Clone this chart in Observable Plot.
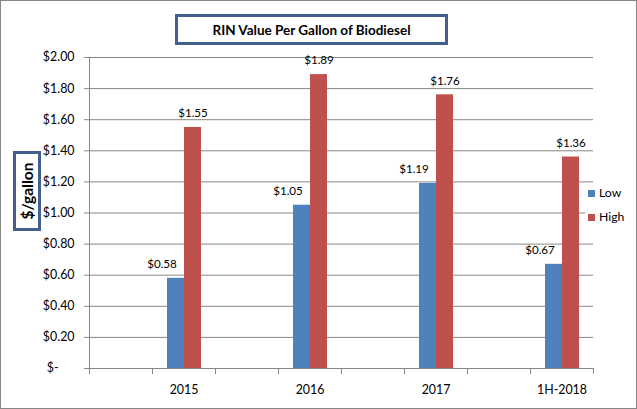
<!DOCTYPE html>
<html>
<head>
<meta charset="utf-8">
<script src="https://cdn.jsdelivr.net/npm/d3@7"></script>
<script src="https://cdn.jsdelivr.net/npm/@observablehq/plot@0.6"></script>
<style>
  body { margin: 0; background: #fff; font-family: Lato, sans-serif; }
  #wrap { position: relative; width: 637px; height: 409px; overflow: hidden; background: #fff; }
  #wrap svg { position: absolute; left: 0; top: 0; }
  .box { position: absolute; box-sizing: border-box; border: 3px solid #41608D; background: #fff;
         display: flex; align-items: center; justify-content: center; font-weight: bold; color: #000; }
  #title { left: 175px; top: 14px; width: 273px; height: 31px; font-size: 13.5px; }
  #ylab { left: 13px; top: 151px; width: 28px; height: 80px; }
  #ylab span { display: block; transform: rotate(-90deg); white-space: nowrap; font-size: 15.5px; }
  #legend { position: absolute; left: 585px; top: 184px; width: 48px; height: 42px; background: #fff; }
  .sw { position: absolute; width: 7px; height: 7px; }
  .lt { position: absolute; font-size: 12.2px; line-height: 14px; color: #000; }
  #border { position: absolute; left: 0; top: 0; width: 637px; height: 409px; box-sizing: border-box;
            border: 1px solid #868686; pointer-events: none; }
</style>
</head>
<body>
<div id="wrap"></div>
<script>
const categories = ["2015", "2016", "2017", "1H-2018"];
const lowValues = [0.58, 1.05, 1.19, 0.67];
const highValues = [1.55, 1.89, 1.76, 1.36];
const seriesNames = ["Low", "High"];
const seriesColors = ["#4F81BD", "#C0504D"];
const slots = ["gap0", "2015", "gap1", "2016", "gap2", "2017", "gap3", "1H-2018"];
const yTicks = [0, 0.2, 0.4, 0.6, 0.8, 1.0, 1.2, 1.4, 1.6, 1.8, 2.0];
const titleText = "RIN Value Per Gallon of Biodiesel";
const yLabelText = "$/gallon";

const data = categories.flatMap((c, i) => [
  {cat: c, series: "Low", value: lowValues[i]},
  {cat: c, series: "High", value: highValues[i]}
]);
const gridData = slots.flatMap(s => yTicks.map(v => ({slot: s, v})));
const money = v => "$" + v.toFixed(2);
const fmtAxis = v => v === 0 ? "$-" + "\u00a0".repeat(5) : money(v);

const plot = Plot.plot({
  width: 637, height: 409,
  marginLeft: 86, marginRight: 42, marginTop: 57, marginBottom: 41,
  style: {fontFamily: "Lato, sans-serif", fontSize: "12.4px", color: "#000", background: "transparent"},
  fx: {domain: slots, padding: 0, label: null},
  x: {domain: seriesNames, paddingInner: 0, paddingOuter: 0.767, axis: null},
  y: {domain: [0, 2]},
  color: {domain: seriesNames, range: seriesColors},
  marks: [
    Plot.ruleY(gridData, {fx: "slot", y: "v", stroke: "#878787"}),
    Plot.axisY({ticks: yTicks, tickSize: 5, tickPadding: 10, tickFormat: fmtAxis, stroke: "#878787", fill: "#000", label: null}),
    Plot.barY(data, {fx: "cat", x: "series", y: "value", fill: "series"}),
    Plot.text(data.filter(d => d.series === "Low"), {fx: "cat", x: "series", y: "value", text: d => money(d.value), dy: -14, dx: -14, fontSize: 11.6, fill: "#000"}),
    Plot.text(data.filter(d => d.series === "High"), {fx: "cat", x: "series", y: "value", text: d => money(d.value), dy: -14, fontSize: 11.6, fill: "#000"}),
    Plot.axisFx({anchor: "bottom", tickSize: 0, tickPadding: 17, tickFormat: d => categories.includes(d) ? d : "", label: null, fill: "#000"})
  ]
});

// category-axis line and boundary tick marks, positioned by Plot's own scales
const fx = plot.scale("fx");
const ys = plot.scale("y");
const y0 = ys.apply(0);
const edges = slots.map(s => fx.apply(s));
edges.push(fx.apply(slots[slots.length - 1]) + fx.bandwidth);
const g = d3.select(plot).append("g").attr("stroke", "#878787").attr("shape-rendering", "crispEdges");
g.append("line").attr("x1", edges[0]).attr("x2", edges[0]).attr("y1", ys.apply(2)).attr("y2", y0 + 4);
g.append("line").attr("x1", edges[0]).attr("x2", edges[edges.length - 1]).attr("y1", y0).attr("y2", y0);
edges.forEach(x => g.append("line").attr("x1", x).attr("x2", x).attr("y1", y0).attr("y2", y0 + 6));

const wrap = document.getElementById("wrap");
wrap.appendChild(plot);

const t = document.createElement("div");
t.className = "box"; t.id = "title"; t.textContent = titleText;
wrap.appendChild(t);

const yl = document.createElement("div");
yl.className = "box"; yl.id = "ylab";
const ys2 = document.createElement("span"); ys2.textContent = yLabelText;
yl.appendChild(ys2);
wrap.appendChild(yl);

const lg = document.createElement("div");
lg.id = "legend";
seriesNames.forEach((name, i) => {
  const sw = document.createElement("div");
  sw.className = "sw";
  sw.style.background = seriesColors[i];
  sw.style.left = "3px";
  sw.style.top = (6 + i * 24) + "px";
  lg.appendChild(sw);
  const lt = document.createElement("div");
  lt.className = "lt";
  lt.textContent = name;
  lt.style.left = "14px";
  lt.style.top = (2 + i * 24) + "px";
  lg.appendChild(lt);
});
wrap.appendChild(lg);

const b = document.createElement("div");
b.id = "border";
wrap.appendChild(b);
</script>
</body>
</html>
